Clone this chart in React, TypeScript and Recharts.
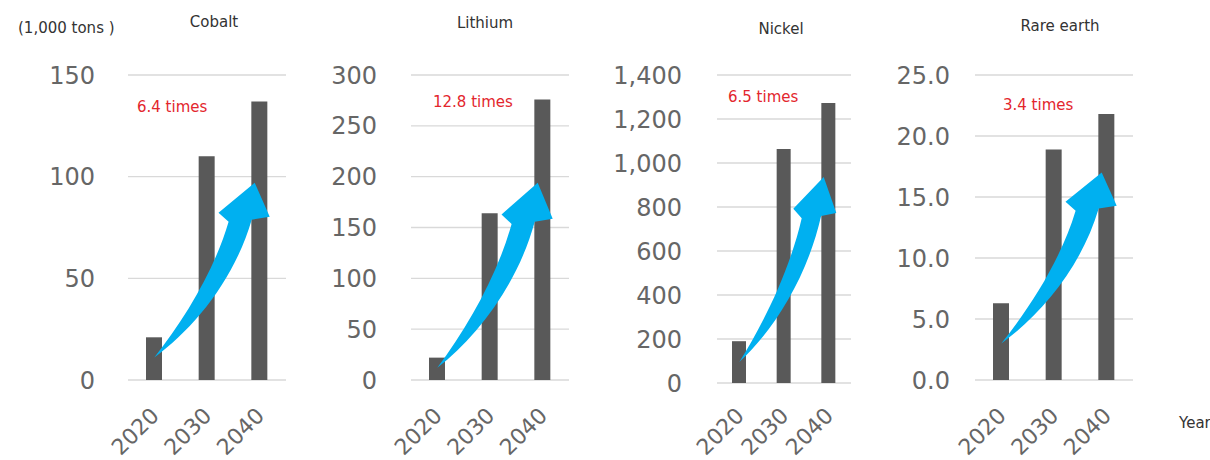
import { Bar, BarChart, CartesianGrid, XAxis, YAxis } from "recharts";

const years = ["2020", "2030", "2040"];

const cobalt = [21, 110, 137];
const lithium = [22, 164, 276];
const nickel = [190, 1064, 1273];
const rareEarth = [6.3, 18.9, 21.8];

const cobaltTicks = [0, 50, 100, 150];
const lithiumTicks = [0, 50, 100, 150, 200, 250, 300];
const nickelTicks = [0, 200, 400, 600, 800, 1000, 1200, 1400];
const rareEarthTicks = [0, 5, 10, 15, 20, 25];

const titles = ["Cobalt", "Lithium", "Nickel", "Rare earth"];
const notes = ["6.4 times", "12.8 times", "6.5 times", "3.4 times"];

// arrow start / end, in each chart's own units
const arrowFrom = [11, 12, 95, 3];
const arrowTo = [97, 194, 936, 17];

const FONT = "'DejaVu Sans', Verdana, sans-serif";
const H = 460;

const panels = [
  { values: cobalt, ticks: cobaltTicks, fmt: (v: number) => String(v), left: 0, plotLeft: 128, plotRight: 286, plotTop: 75, plotBottom: 380, gap: 33, barSize: 16, titleX: 214, titleY: 27, noteX: 137, noteY: 112 },
  { values: lithium, ticks: lithiumTicks, fmt: (v: number) => String(v), left: 300, plotLeft: 411, plotRight: 569, plotTop: 75, plotBottom: 380, gap: 34, barSize: 16, titleX: 485, titleY: 28, noteX: 433, noteY: 107 },
  { values: nickel, ticks: nickelTicks, fmt: (v: number) => v.toLocaleString("en-US"), left: 590, plotLeft: 717, plotRight: 851, plotTop: 75, plotBottom: 383, gap: 35, barSize: 14, titleX: 781, titleY: 34, noteX: 728, noteY: 102 },
  { values: rareEarth, ticks: rareEarthTicks, fmt: (v: number) => v.toFixed(1), left: 870, plotLeft: 975, plotRight: 1133, plotTop: 75, plotBottom: 380, gap: 25, barSize: 16, titleX: 1060, titleY: 31, noteX: 1003, noteY: 110 },
];

const YearTick = ({ x, payload }: any) => {
  const ax = x + 6;
  const ay = 417;
  return (
    <text x={ax} y={ay} transform={`rotate(-45 ${ax} ${ay})`} textAnchor="end" fill="#666" fontSize={22} fontFamily={FONT}>
      {payload.value}
    </text>
  );
};

// curved arrow, shape relative to tail (0,0) and tip (1,1)
function arrowPath(tx: number, ty: number, px: number, py: number) {
  const dx = px - tx;
  const dy = ty - py;
  const p = (u: number, v: number) => `${(tx + u * dx).toFixed(1)},${(ty - v * dy).toFixed(1)}`;
  return [
    `M${p(0, 0)}`,
    `C${p(0.4, 0.17)} ${p(0.8, 0.45)} ${p(0.97, 0.789)}`,
    `L${p(1.15, 0.806)}`,
    `L${p(1, 1)}`,
    `L${p(0.64, 0.829)}`,
    `L${p(0.74, 0.777)}`,
    `C${p(0.6, 0.5)} ${p(0.3, 0.22)} ${p(0, 0)}`,
    "Z",
  ].join(" ");
}

function Panel({ cfg }: { cfg: (typeof panels)[number] }) {
  const rows = years.map((year, i) => ({ year, value: cfg.values[i] }));
  const width = cfg.plotRight - cfg.left + 10;
  return (
    <div style={{ position: "absolute", left: cfg.left, top: 0 }}>
      <BarChart width={width} height={H} data={rows} margin={{ top: cfg.plotTop, right: 10, bottom: 0, left: 0 }}>
        <CartesianGrid vertical={false} stroke="#d9d9d9" strokeWidth={1.3} />
        <XAxis dataKey="year" axisLine={false} tickLine={false} interval={0} height={H - cfg.plotBottom} tick={<YearTick />} />
        <YAxis
          domain={[0, cfg.ticks[cfg.ticks.length - 1]]}
          ticks={cfg.ticks}
          interval={0}
          tickFormatter={cfg.fmt}
          axisLine={false}
          tickLine={false}
          tickSize={0}
          tickMargin={cfg.gap}
          width={cfg.plotLeft - cfg.left}
          tick={{ fill: "#666", fontSize: 24, fontFamily: FONT }}
        />
        <Bar dataKey="value" fill="#595959" barSize={cfg.barSize} isAnimationActive={false} />
      </BarChart>
    </div>
  );
}

export default function App() {
  return (
    <div style={{ position: "absolute", left: 0, top: 0, width: 1210, height: H, overflow: "hidden", background: "#fff" }}>
      {panels.map((cfg, i) => (
        <Panel key={titles[i]} cfg={cfg} />
      ))}
      <svg width={1210} height={H} style={{ position: "absolute", left: 0, top: 0, pointerEvents: "none" }}>
        {panels.map((cfg, i) => {
          const band = (cfg.plotRight - cfg.plotLeft) / years.length;
          const max = cfg.ticks[cfg.ticks.length - 1];
          const yOf = (v: number) => cfg.plotBottom - (v / max) * (cfg.plotBottom - cfg.plotTop);
          const tailX = cfg.plotLeft + band / 2;
          const tipX = cfg.plotLeft + band * 2.5 - 5;
          return (
            <g key={titles[i]}>
              <path d={arrowPath(tailX, yOf(arrowFrom[i]), tipX, yOf(arrowTo[i]))} fill="#00b0f0" />
              <text x={cfg.titleX} y={cfg.titleY} textAnchor="middle" fontSize={15} fill="#333" fontFamily={FONT}>
                {titles[i]}
              </text>
              <text x={cfg.noteX} y={cfg.noteY} fontSize={15} fill="#e3262d" fontFamily={FONT}>
                {notes[i]}
              </text>
            </g>
          );
        })}
        <text x={18} y={33} fontSize={15} fill="#333" fontFamily={FONT}>
          (1,000 tons )
        </text>
        <text x={1179} y={428} fontSize={15} fill="#333" fontFamily={FONT}>
          Year
        </text>
      </svg>
    </div>
  );
}
